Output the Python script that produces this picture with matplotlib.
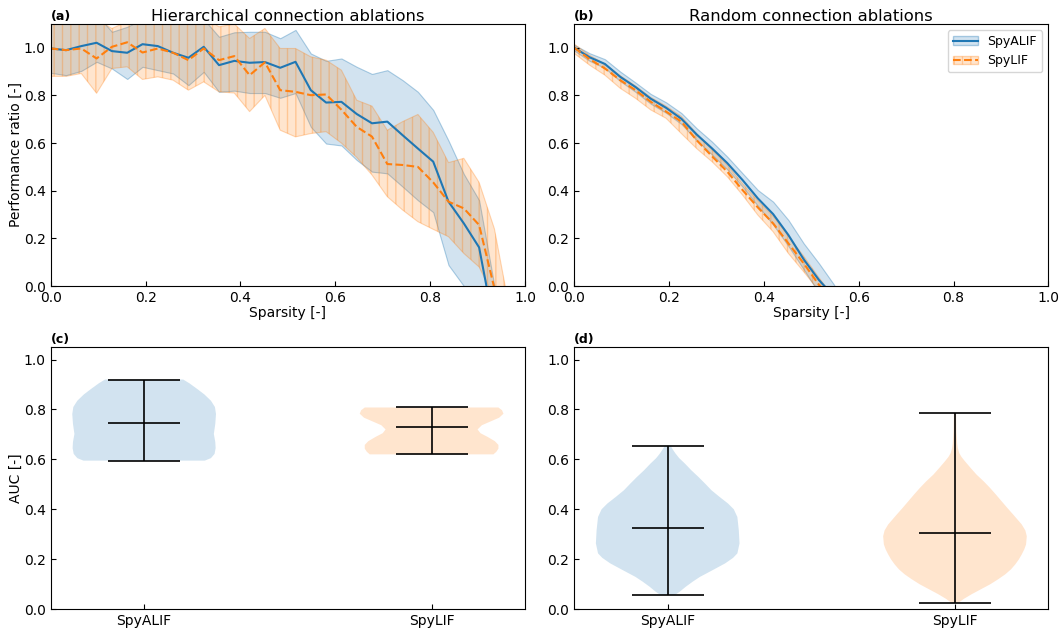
import numpy as np
import matplotlib
matplotlib.use("Agg")
import matplotlib.pyplot as plt
from matplotlib.patches import Patch
from matplotlib.lines import Line2D
from matplotlib.colors import to_rgba

# ---------------- data ----------------
n_levels = 31  # sparsity step = 1/31
idx_a = list(range(31))
alif_a = [0.997, 0.990, 1.007, 1.021, 0.986, 0.979, 1.015, 1.007, 0.979, 0.958, 1.004,
          0.927, 0.945, 0.937, 0.940, 0.916, 0.941, 0.822, 0.770, 0.773, 0.722, 0.683,
          0.690, 0.633, 0.577, 0.522, 0.354, 0.263, 0.162, -0.176, -0.45]
alif_a_hi = [1.13, 1.12, 1.13, 1.14, 1.067, 1.088, 1.12, 1.12, 1.12, 1.12, 1.12,
             1.046, 1.065, 1.067, 1.067, 1.04, 1.075, 0.976, 0.945, 0.955, 0.92, 0.89,
             0.906, 0.864, 0.815, 0.739, 0.61, 0.47, 0.36, 0.0, -0.3]
alif_a_lo = [0.895, 0.885, 0.903, 0.941, 0.913, 0.869, 0.92, 0.906, 0.892, 0.843, 0.899,
             0.815, 0.82, 0.81, 0.81, 0.79, 0.81, 0.668, 0.598, 0.59, 0.529, 0.48,
             0.473, 0.417, 0.36, 0.31, 0.088, 0.0, -0.1, -0.3, -0.5]
lif_a = [0.997, 0.99, 0.997, 0.955, 1.004, 1.023, 0.98, 0.997, 0.979, 0.948, 0.997,
         0.948, 0.965, 0.885, 0.939, 0.822, 0.815, 0.801, 0.804, 0.74, 0.668, 0.627,
         0.512, 0.508, 0.5, 0.435, 0.354, 0.326, 0.256, -0.01, -0.3]
lif_a_hi = [1.13, 1.12, 1.14, 1.12, 1.081, 1.11, 1.13, 1.13, 1.13, 1.13, 1.13,
            1.088, 1.1, 1.039, 1.081, 0.997, 0.997, 0.962, 0.948, 0.906, 0.78, 0.755,
            0.654, 0.69, 0.72, 0.645, 0.518, 0.536, 0.435, 0.24, -0.1]
lif_a_lo = [0.88, 0.88, 0.892, 0.809, 0.913, 0.92, 0.867, 0.878, 0.864, 0.822, 0.857,
            0.815, 0.81, 0.732, 0.80, 0.654, 0.626, 0.64, 0.648, 0.6, 0.54, 0.466,
            0.375, 0.319, 0.27, 0.238, 0.207, 0.137, 0.08, -0.05, -0.3]

idx_b = list(range(18))
alif_b = [1.0, 0.96, 0.932, 0.878, 0.835, 0.786, 0.748, 0.702, 0.636, 0.578, 0.516,
          0.445, 0.368, 0.302, 0.214, 0.112, 0.025, -0.045]
alif_b_hi = [1.012, 0.977, 0.952, 0.9, 0.854, 0.806, 0.771, 0.726, 0.662, 0.606, 0.543,
             0.473, 0.403, 0.354, 0.277, 0.179, 0.095, 0.004]
alif_b_lo = [0.988, 0.945, 0.915, 0.86, 0.815, 0.765, 0.727, 0.68, 0.612, 0.552, 0.49,
             0.417, 0.337, 0.258, 0.168, 0.07, -0.03, -0.1]
lif_b = [1.0, 0.952, 0.913, 0.864, 0.822, 0.773, 0.732, 0.69, 0.612, 0.545, 0.48,
         0.403, 0.33, 0.263, 0.179, 0.095, 0.005, -0.08]
lif_b_hi = [1.015, 0.968, 0.932, 0.883, 0.84, 0.792, 0.755, 0.712, 0.64, 0.572, 0.507,
            0.43, 0.358, 0.293, 0.21, 0.125, 0.035, -0.05]
lif_b_lo = [0.976, 0.927, 0.885, 0.83, 0.788, 0.739, 0.704, 0.64, 0.577, 0.522, 0.459,
            0.382, 0.298, 0.228, 0.137, 0.06, -0.02, -0.1]

models = ["SpyALIF", "SpyLIF"]

# violin density profiles (relative density along AUC)
c_alif_y = [0.595, 0.605, 0.622, 0.645, 0.670, 0.702, 0.742, 0.782, 0.810, 0.835,
            0.860, 0.882, 0.905, 0.920]
c_alif_d = [0.845, 0.93, 0.98, 0.995, 0.99, 0.97, 0.99, 1.0, 0.985, 0.93,
            0.84, 0.74, 0.63, 0.545]
c_alif_stats = (0.595, 0.745, 0.920)  # min, mean, max
c_lif_y = [0.620, 0.630, 0.643, 0.658, 0.673, 0.690, 0.705, 0.720, 0.737, 0.752,
           0.767, 0.783, 0.797, 0.808]
c_lif_d = [0.86, 0.90, 0.93, 0.93, 0.88, 0.78, 0.68, 0.64, 0.70, 0.82,
           0.94, 1.0, 0.98, 0.93]
c_lif_stats = (0.620, 0.728, 0.808)

d_alif_y = [0.056, 0.070, 0.089, 0.110, 0.129, 0.155, 0.183, 0.205, 0.223, 0.263,
            0.316, 0.369, 0.400, 0.423, 0.450, 0.476, 0.503, 0.529, 0.556, 0.583,
            0.605, 0.623, 0.640, 0.655]
d_alif_d = [0.10, 0.17, 0.25, 0.35, 0.45, 0.62, 0.80, 0.91, 0.97, 1.0,
            0.99, 0.97, 0.92, 0.84, 0.72, 0.61, 0.52, 0.43, 0.33, 0.24,
            0.16, 0.11, 0.07, 0.04]
d_alif_stats = (0.056, 0.325, 0.655)
d_lif_y = [0.025, 0.040, 0.059, 0.079, 0.099, 0.119, 0.139, 0.159, 0.179, 0.199,
           0.219, 0.239, 0.259, 0.292, 0.315, 0.339, 0.359, 0.379, 0.405, 0.432,
           0.459, 0.485, 0.512, 0.539, 0.565, 0.592, 0.610, 0.625, 0.645, 0.665,
           0.712, 0.785]
d_lif_d = [0.05, 0.12, 0.23, 0.36, 0.49, 0.60, 0.70, 0.78, 0.84, 0.89,
           0.93, 0.965, 0.99, 1.0, 0.98, 0.93, 0.87, 0.81, 0.73, 0.65,
           0.57, 0.49, 0.40, 0.30, 0.22, 0.14, 0.09, 0.06, 0.04, 0.03,
           0.02, 0.015]
d_lif_stats = (0.025, 0.305, 0.785)

# ---------------- plotting ----------------
plt.rcParams['font.family'] = ['DejaVu Sans']
plt.rcParams['hatch.linewidth'] = 1.0
C0 = "#1f77b4"
C1 = "#ff7f0e"

fig = plt.figure(figsize=(10.63, 6.30), dpi=100)
axa = fig.add_axes([0.0477, 0.546, 0.4462, 0.416])
axb = fig.add_axes([0.5403, 0.546, 0.4459, 0.416])
axc = fig.add_axes([0.0477, 0.0333, 0.4462, 0.4157])
axd = fig.add_axes([0.5403, 0.0333, 0.4459, 0.4157])


def bands(ax, idx, a, ahi, alo, l, lhi, llo):
    x = np.array(idx) / n_levels
    ax.fill_between(x, alo, ahi, facecolor=to_rgba(C0, 0.2),
                    edgecolor=to_rgba(C0, 0.35), linewidth=0.8)
    ax.plot(x, a, color=C0, lw=1.5)
    ax.fill_between(x, llo, lhi, facecolor=to_rgba(C1, 0.2),
                    edgecolor=to_rgba(C1, 0.3), hatch='||', linewidth=0.8)
    ax.plot(x, l, color=C1, lw=1.5, ls='--')
    ax.set_xlim(0, 1)
    ax.set_ylim(0, 1.1)
    ax.set_xticks(np.arange(0, 1.01, 0.2))
    ax.set_yticks(np.arange(0, 1.01, 0.2))
    ax.set_xlabel("Sparsity [-]", fontsize=10, labelpad=1)


bands(axa, idx_a, alif_a, alif_a_hi, alif_a_lo, lif_a, lif_a_hi, lif_a_lo)
bands(axb, idx_b, alif_b, alif_b_hi, alif_b_lo, lif_b, lif_b_hi, lif_b_lo)
axa.set_ylabel("Performance ratio [-]", fontsize=10, labelpad=1)
axa.set_title("Hierarchical connection ablations", fontsize=11.8, pad=2)
axb.set_title("Random connection ablations", fontsize=11.8, pad=2)

h1 = (Patch(facecolor=to_rgba(C0, 0.2), edgecolor=to_rgba(C0, 0.35)),
      Line2D([], [], color=C0, lw=1.5))
h2 = (Patch(facecolor=to_rgba(C1, 0.2), edgecolor=to_rgba(C1, 0.3), hatch='||'),
      Line2D([], [], color=C1, lw=1.5, ls='--'))
axb.legend([h1, h2], models, loc='upper right', fontsize=9)


def violins(ax, profiles):
    stats = []
    for ys, ds, (mn, mean, mx) in profiles:
        stats.append(dict(coords=np.array(ys), vals=np.array(ds), mean=mean,
                          median=mean, min=mn, max=mx))
    parts = ax.violin(stats, positions=[1, 2], widths=0.5, showmeans=True,
                      showextrema=True)
    for body, col in zip(parts['bodies'], [C0, C1]):
        body.set_facecolor(col)
        body.set_edgecolor('none')
        body.set_alpha(0.2)
    for k in ['cmins', 'cmaxes', 'cbars', 'cmeans']:
        parts[k].set_color('black')
        parts[k].set_linewidth(1.2)
    ax.set_ylim(0, 1.05)
    ax.set_yticks(np.arange(0, 1.01, 0.2))
    ax.set_xticks([1, 2])
    ax.set_xticklabels(models)


violins(axc, [(c_alif_y, c_alif_d, c_alif_stats), (c_lif_y, c_lif_d, c_lif_stats)])
violins(axd, [(d_alif_y, d_alif_d, d_alif_stats), (d_lif_y, d_lif_d, d_lif_stats)])
axc.set_ylabel("AUC [-]", fontsize=10, labelpad=1)

for ax, lab in zip([axa, axb, axc, axd], ["(a)", "(b)", "(c)", "(d)"]):
    ax.tick_params(direction='in', labelsize=10)
    ax.text(0.0, 1.005, lab, transform=ax.transAxes, fontsize=9,
            fontweight='bold', ha='left', va='bottom')

fig.savefig("out.png", dpi=100)
